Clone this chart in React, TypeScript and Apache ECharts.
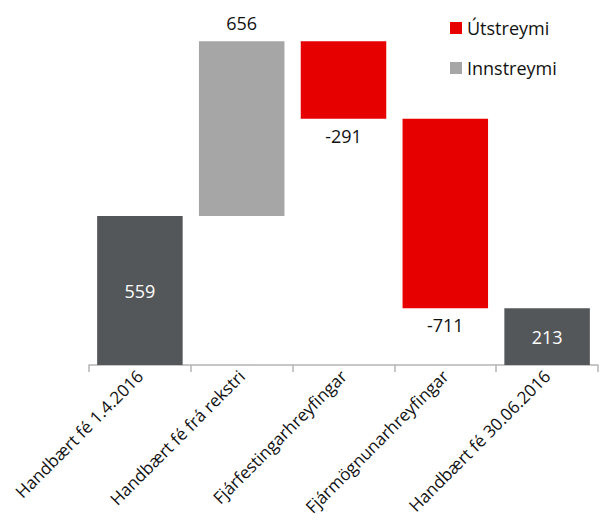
import React, { useEffect, useRef } from "react";
import * as echarts from "echarts";

const categories = [
  "Handbært fé 1.4.2016",
  "Handbært fé frá rekstri",
  "Fjárfestingarhreyfingar",
  "Fjármögnunarhreyfingar",
  "Handbært fé 30.06.2016",
];
// invisible base of the waterfall
const baseValues: (number | string)[] = [0, 559, 924, 213, 0];
const totalValues: (number | string)[] = [559, "-", "-", "-", 213];
const inflowValues: (number | string)[] = ["-", 656, "-", "-", "-"];
const outflowValues: (number | string)[] = ["-", "-", 291, 711, "-"];

const FONT = "'Open Sans', 'Noto Sans', sans-serif";

export default function App() {
  const ref = useRef<HTMLDivElement>(null);
  useEffect(() => {
    if (!ref.current) return;
    const chart = echarts.init(ref.current, undefined, { renderer: "svg" });
    chart.setOption({
      animation: false,
      textStyle: { fontFamily: FONT },
      legend: {
        data: ["Útstreymi", "Innstreymi"],
        orient: "vertical",
        left: 445,
        top: 12,
        icon: "rect",
        itemWidth: 12,
        itemHeight: 12,
        itemGap: 18,
        selectedMode: false,
        textStyle: { fontSize: 18, color: "#111", fontFamily: FONT, lineHeight: 22 },
      },
      grid: { left: 89, right: 2, top: 18.5, bottom: 162, outerBoundsMode: "none" },
      xAxis: {
        type: "category",
        data: categories,
        axisLine: { lineStyle: { color: "#b4b4b4", width: 1.5 } },
        axisTick: { show: true, length: 7, lineStyle: { color: "#b4b4b4", width: 1.5 } },
        axisLabel: {
          rotate: 45,
          interval: 0,
          fontSize: 17,
          color: "#111",
          fontFamily: FONT,
          margin: 8,
        },
      },
      yAxis: { type: "value", min: 0, max: 1300, show: false, splitLine: { show: false } },
      series: [
        {
          name: "base",
          type: "bar",
          stack: "w",
          data: baseValues,
          itemStyle: { color: "transparent" },
          barCategoryGap: "16%",
          silent: true,
        },
        {
          name: "Total",
          type: "bar",
          stack: "w",
          data: totalValues,
          itemStyle: { color: "#54575a" },
          label: { show: true, position: "inside", color: "#fff", fontSize: 18, fontFamily: FONT },
        },
        {
          name: "Innstreymi",
          type: "bar",
          stack: "w",
          data: inflowValues,
          itemStyle: { color: "#a6a6a6" },
          label: { show: true, position: "top", distance: 9, color: "#111", fontSize: 18, fontFamily: FONT },
        },
        {
          name: "Útstreymi",
          type: "bar",
          stack: "w",
          data: outflowValues,
          itemStyle: { color: "#e60000" },
          label: {
            show: true,
            position: "bottom",
            distance: 8,
            color: "#111",
            fontSize: 18,
            fontFamily: FONT,
            formatter: (p: any) => "-" + p.value,
          },
        },
      ],
    });
    return () => chart.dispose();
  }, []);
  return <div ref={ref} style={{ position: "absolute", left: 0, top: 0, width: 600, height: 527 }} />;
}
